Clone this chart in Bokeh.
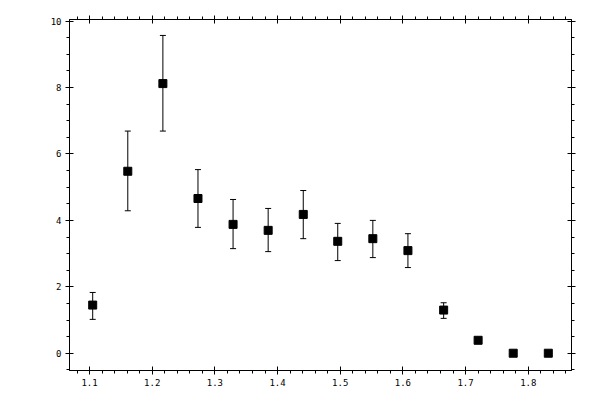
from bokeh.plotting import figure
from bokeh.models import (ColumnDataSource, Range1d, LinearAxis, SingleIntervalTicker,
                          PrintfTickFormatter, CustomJSTickFormatter, Whisker, TeeHead)
from bokeh.embed import file_html
from bokeh.resources import INLINE

# data
x_vals = [1.105, 1.161, 1.217, 1.273, 1.329, 1.385, 1.441, 1.496, 1.552, 1.608, 1.665, 1.720, 1.776, 1.832]
y_vals = [1.45, 5.48, 8.12, 4.66, 3.88, 3.70, 4.18, 3.37, 3.45, 3.09, 1.30, 0.39, 0.0, 0.0]
y_upper = [1.83, 6.69, 9.57, 5.53, 4.63, 4.36, 4.90, 3.91, 4.00, 3.60, 1.52, 0.45, 0.0, 0.0]
y_lower = [1.02, 4.29, 6.69, 3.79, 3.15, 3.06, 3.45, 2.79, 2.88, 2.58, 1.05, 0.33, 0.0, 0.0]

src = ColumnDataSource(data=dict(x=x_vals, y=y_vals, upper=y_upper, lower=y_lower))

FONT = "DejaVu Sans Mono"

p = figure(width=592, height=392, output_backend="svg", toolbar_location=None,
           x_range=Range1d(1.068, 1.869), y_range=Range1d(-0.52, 10.05),
           x_axis_location=None, y_axis_location=None,
           min_border_left=69, min_border_right=21, min_border_top=19, min_border_bottom=22)
p.xgrid.visible = False
p.ygrid.visible = False
p.outline_line_color = "black"


def style(ax, labels=True):
    ax.axis_line_color = "black"
    ax.major_tick_line_color = "black"
    ax.minor_tick_line_color = "black"
    ax.major_tick_in = 4
    ax.major_tick_out = 4
    ax.minor_tick_in = 0
    ax.minor_tick_out = 3
    ax.major_label_standoff = 4
    ax.major_label_text_font = FONT
    ax.major_label_text_font_size = "9px"
    ax.major_label_text_color = "black"
    if not labels:
        ax.formatter = CustomJSTickFormatter(code="return ''")


xticker = SingleIntervalTicker(interval=0.1, num_minor_ticks=5)
yticker = SingleIntervalTicker(interval=2, num_minor_ticks=4)

bottom = LinearAxis(ticker=xticker, formatter=PrintfTickFormatter(format="%.1f"))
style(bottom)
p.add_layout(bottom, "below")
top = LinearAxis(ticker=xticker)
style(top, labels=False)
p.add_layout(top, "above")

left = LinearAxis(ticker=yticker, formatter=PrintfTickFormatter(format="%d"))
style(left)
p.add_layout(left, "left")
right = LinearAxis(ticker=yticker)
style(right, labels=False)
p.add_layout(right, "right")

err = Whisker(source=src, base="x", upper="upper", lower="lower", dimension="height",
              line_color="black", line_width=1,
              upper_head=TeeHead(size=6, line_color="black", line_width=1),
              lower_head=TeeHead(size=6, line_color="black", line_width=1))
p.add_layout(err)

p.scatter("x", "y", source=src, marker="square", size=8, fill_color="black", line_color="black")

open("out.html", "w").write(file_html(p, INLINE))
